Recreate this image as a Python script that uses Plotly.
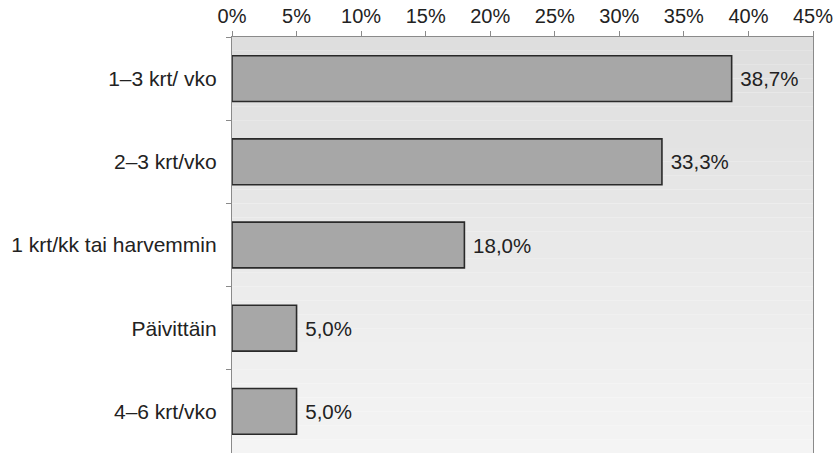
import plotly.graph_objects as go

categories = ["1–3 krt/ vko", "2–3 krt/vko", "1 krt/kk tai harvemmin", "Päivittäin", "4–6 krt/vko"]
values = [38.7, 33.3, 18.0, 5.0, 5.0]
labels = ["38,7%", "33,3%", "18,0%", "5,0%", "5,0%"]
tick_vals = [0, 5, 10, 15, 20, 25, 30, 35, 40, 45]
tick_text = [f"{v}%" for v in tick_vals]

FONT = "Liberation Sans, Arial, sans-serif"

fig = go.Figure()
fig.add_trace(go.Bar(
    y=categories, x=values, orientation="h",
    width=0.55,
    marker=dict(color="#a7a7a7", line=dict(color="#2a2a2a", width=1.6)),
    text=labels, texttemplate=" %{text}", textposition="outside", cliponaxis=False,
    textfont=dict(family=FONT, size=20.5, color="#222222"),
))

# vertical gradient background (darker top to lighter bottom)
n = 30
for i in range(n):
    t = i / (n - 1)
    g = int(round(222 + (244 - 222) * t))
    fig.add_shape(type="rect", xref="paper", yref="paper",
                  x0=0, x1=1, y0=1 - (i + 1) / n, y1=1 - i / n,
                  fillcolor=f"rgb({g},{g},{g})", line=dict(width=0), layer="below")

fig.update_layout(
    width=833, height=453,
    margin=dict(l=232, r=18, t=37, b=0),
    paper_bgcolor="white", plot_bgcolor="rgba(0,0,0,0)",
    showlegend=False,
    font=dict(family=FONT, size=20.5, color="#222222"),
    bargap=0.45,
)
fig.update_xaxes(
    side="top", range=[0, 45], tickvals=tick_vals, ticktext=tick_text,
    showgrid=False, zeroline=False,
    showline=True, linecolor="#8a8a8a", linewidth=1.2,
    ticks="outside", ticklen=5, tickcolor="#8a8a8a",
    ticklabeloverflow="allow",
    tickfont=dict(family=FONT, size=20, color="#222222"),
)
fig.update_yaxes(
    categoryorder="array", categoryarray=categories, autorange="reversed",
    showgrid=False, zeroline=False,
    showline=True, linecolor="#8a8a8a", linewidth=1.2, mirror=True,
    ticks="outside", ticklen=5, tickcolor="#8a8a8a", tickson="boundaries",
    ticklabelstandoff=10,
    tickfont=dict(family=FONT, size=21, color="#222222"),
)

fig.write_html("out.html")
